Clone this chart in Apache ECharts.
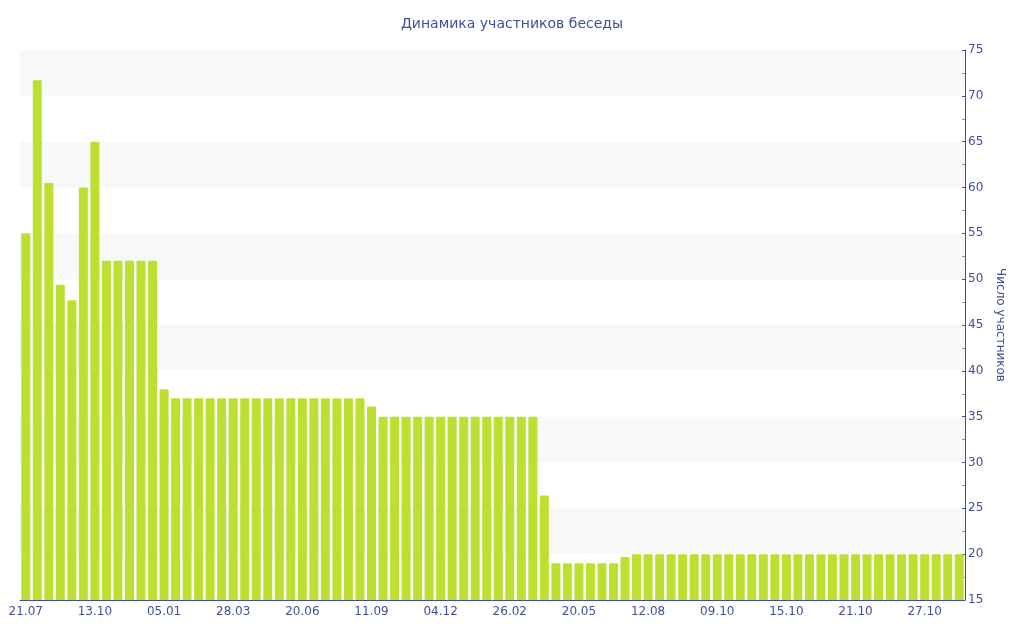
<!DOCTYPE html>
<html>
<head>
<meta charset="utf-8">
<script src="https://cdn.jsdelivr.net/npm/echarts@6/dist/echarts.min.js"></script>
<style>
  html, body { margin: 0; padding: 0; background: #fff; }
  #chart { width: 1024px; height: 640px; }
</style>
</head>
<body>
<div id="chart"></div>
<script>
// даты (подписи показываются через каждые 6 столбцов)
var dates = [
  "21.07", "04.08", "18.08", "01.09", "15.09", "29.09",
  "13.10", "27.10", "10.11", "24.11", "08.12", "22.12",
  "05.01", "19.01", "02.02", "16.02", "28.02", "14.03",
  "28.03", "11.04", "25.04", "09.05", "23.05", "06.06",
  "20.06", "04.07", "18.07", "01.08", "15.08", "29.08",
  "11.09", "25.09", "09.10", "23.10", "06.11", "20.11",
  "04.12", "18.12", "01.01", "15.01", "29.01", "12.02",
  "26.02", "12.03", "26.03", "09.04", "23.04", "07.05",
  "20.05", "03.06", "17.06", "01.07", "15.07", "29.07",
  "12.08", "22.08", "01.09", "11.09", "21.09", "01.10",
  "09.10", "10.10", "11.10", "12.10", "13.10", "14.10",
  "15.10", "16.10", "17.10", "18.10", "19.10", "20.10",
  "21.10", "22.10", "23.10", "24.10", "25.10", "26.10",
  "27.10", "28.10", "29.10", "30.10"
];
// число участников
var members = [
  55, 71.7, 60.5, 49.4, 47.7, 60,
  65, 52, 52, 52, 52, 52,
  38, 37, 37, 37, 37, 37,
  37, 37, 37, 37, 37, 37,
  37, 37, 37, 37, 37, 37,
  36.1, 35, 35, 35, 35, 35,
  35, 35, 35, 35, 35, 35,
  35, 35, 35, 26.4, 19, 19,
  19, 19, 19, 19, 19.7, 20,
  20, 20, 20, 20, 20, 20,
  20, 20, 20, 20, 20, 20,
  20, 20, 20, 20, 20, 20,
  20, 20, 20, 20, 20, 20,
  20, 20, 20, 20
];

var blue = "#3f4f9e";
var chart = echarts.init(document.getElementById("chart"));
var option = {
  animation: false,
  textStyle: { fontFamily: "DejaVu Sans" },
  title: {
    text: "Динамика участников беседы",
    left: "center",
    top: 12,
    textStyle: { color: blue, fontSize: 14, fontWeight: "normal", fontFamily: "DejaVu Sans" }
  },
  grid: { left: 20, right: 59, top: 50, bottom: 40 },
  xAxis: {
    type: "category",
    data: dates,
    axisLine: { lineStyle: { color: blue } },
    axisTick: { interval: 5, alignWithLabel: true, lineStyle: { color: blue } },
    axisLabel: { interval: 5, color: blue, fontSize: 12, margin: 6 },
    splitLine: { show: false }
  },
  yAxis: {
    type: "value",
    position: "right",
    min: 15,
    max: 75,
    interval: 5,
    name: "Число участников",
    nameLocation: "middle",
    nameRotate: -90,
    nameGap: 29,
    nameTextStyle: { color: blue, fontSize: 12 },
    axisLine: { show: true, lineStyle: { color: blue } },
    axisTick: { show: true, inside: true, length: 3, lineStyle: { color: blue } },
    minorTick: { show: true, splitNumber: 2, length: 3, lineStyle: { color: "#999" } },
    axisLabel: { color: blue, fontSize: 12, margin: 3 },
    splitLine: { show: false },
    splitArea: { show: true, areaStyle: { color: ["#ffffff", "#f8f8f8"] } }
  },
  series: [{
    type: "bar",
    data: members,
    barCategoryGap: "22%",
    itemStyle: { color: "#bde030", borderRadius: [1, 1, 0, 0] }
  }]
};
chart.setOption(option);
</script>
</body>
</html>
